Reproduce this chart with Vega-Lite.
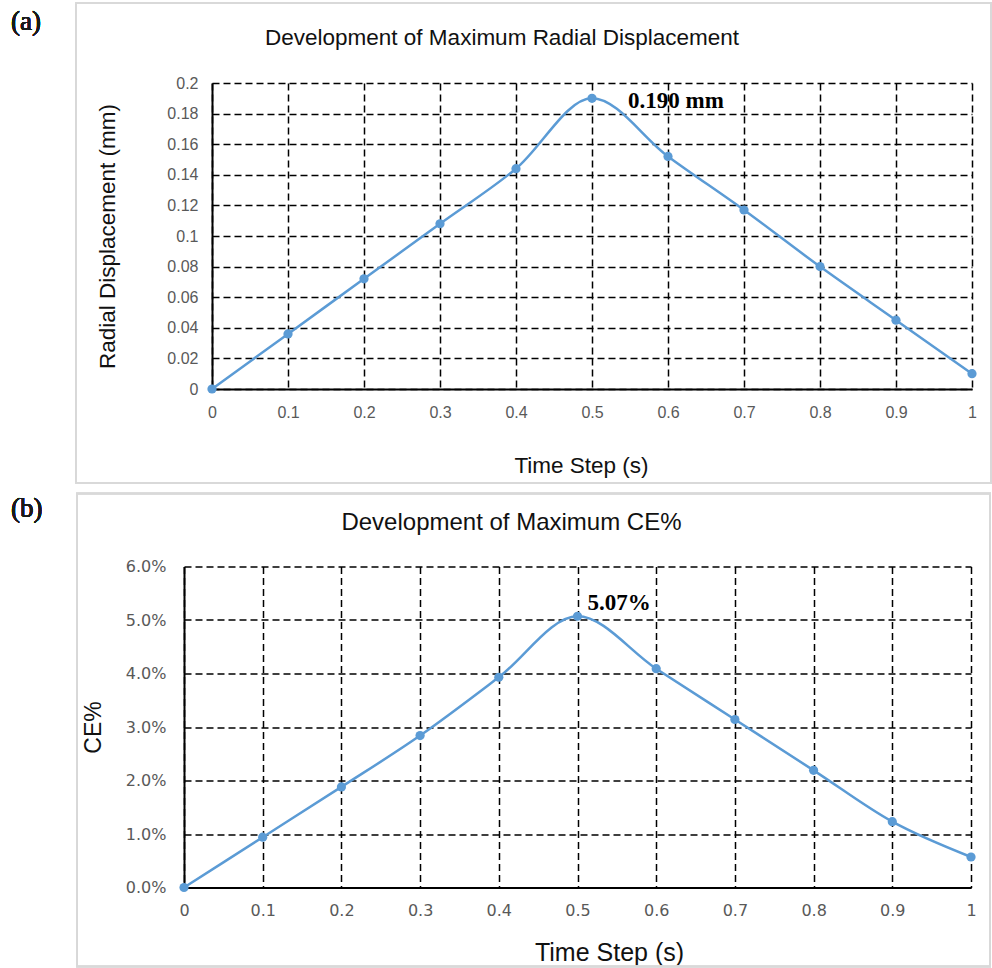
{
  "$schema": "https://vega.github.io/schema/vega-lite/v6.json",
  "background": "white",
  "padding": {"left": 10, "top": 2, "right": 0, "bottom": 0},
  "spacing": 8.5,
  "config": {
    "view": {"stroke": null},
    "font": "Liberation Sans",
    "axis": {
      "grid": true,
      "gridColor": "#000000",
      "gridDash": [7, 4],
      "gridWidth": 1.5,
      "gridOpacity": 1,
      "ticks": false,
      "domainColor": "#000000",
      "domainWidth": 2,
      "labelColor": "#595959",
      "labelFont": "Liberation Sans",
      "labelOverlap": false,
      "labelFlush": false,
      "labelBound": false,
      "titleFont": "Liberation Sans",
      "titleFontWeight": "normal",
      "titleColor": "#111111"
    }
  },
  "vconcat": [
    {
      "width": 788,
      "height": 306,
      "title": {
        "text": "Development of Maximum Radial Displacement",
        "font": "Liberation Sans",
        "fontSize": 22.5,
        "fontWeight": "normal",
        "color": "#111111",
        "anchor": "middle",
        "frame": "group",
        "baseline": "alphabetic",
        "dx": -76,
        "offset": -65
      },
      "data": {
        "values": [
          {"t": 0, "v": 0},
          {"t": 0.1, "v": 0.036},
          {"t": 0.2, "v": 0.072},
          {"t": 0.3, "v": 0.108},
          {"t": 0.4, "v": 0.144},
          {"t": 0.5, "v": 0.19, "label": "0.190 mm"},
          {"t": 0.6, "v": 0.152},
          {"t": 0.7, "v": 0.117},
          {"t": 0.8, "v": 0.08},
          {"t": 0.9, "v": 0.045},
          {"t": 1, "v": 0.01}
        ]
      },
      "layer": [
        {
          "mark": {"type": "line", "interpolate": "monotone", "color": "#5B9BD5", "strokeWidth": 2.5, "point": {"filled": true, "size": 85, "color": "#5B9BD5", "opacity": 1}},
          "encoding": {
            "x": {
              "field": "t", "type": "quantitative",
              "scale": {"domain": [0, 1], "range": [28, 788], "nice": false},
              "axis": {
                "values": [0, 0.1, 0.2, 0.3, 0.4, 0.5, 0.6, 0.7, 0.8, 0.9, 1],
                "tickCount": 20,
                "format": "~g",
                "labelFontSize": 16,
                "labelPadding": 15,
                "title": "Time Step (s)",
                "titleFontSize": 22.5,
                "titlePadding": 34,
                "titleX": 397
              }
            },
            "y": {
              "field": "v", "type": "quantitative",
              "scale": {"domain": [0, 0.2], "nice": false},
              "axis": {
                "values": [0, 0.02, 0.04, 0.06, 0.08, 0.1, 0.12, 0.14, 0.16, 0.18, 0.2],
                "tickCount": 20,
                "format": "~g",
                "offset": -28,
                "labelFontSize": 16,
                "labelPadding": 14,
                "title": "Radial Displacement (mm)",
                "titleFontSize": 22.5,
                "titlePadding": 47
              }
            }
          }
        },
        {
          "mark": {"type": "rect", "fillOpacity": 0, "stroke": "#d9d9d9", "strokeWidth": 1.5},
          "encoding": {
            "x": {"datum": -0.1789, "type": "quantitative", "scale": {"domain": [0, 1], "range": [28, 788], "nice": false}},
            "x2": {"datum": 1.025},
            "y": {"datum": 0.2523, "type": "quantitative", "scale": {"domain": [0, 0.2], "nice": false}},
            "y2": {"datum": -0.0614}
          }
        },
        {
          "mark": {"type": "text", "text": "(a)", "font": "Liberation Serif", "fontSize": 27, "align": "left", "baseline": "alphabetic", "color": "#1a1a1a"},
          "encoding": {
            "x": {"datum": -0.2645, "type": "quantitative", "scale": {"domain": [0, 1], "range": [28, 788], "nice": false}},
            "y": {"datum": 0.2346, "type": "quantitative", "scale": {"domain": [0, 0.2], "nice": false}}
          }
        },
        {
          "transform": [{"filter": "isValid(datum.label)"}],
          "mark": {"type": "text", "font": "Liberation Serif", "fontWeight": "bold", "fontSize": 23, "align": "left", "baseline": "middle", "dx": 36, "dy": 3, "color": "#000000"},
          "encoding": {
            "x": {"field": "t", "type": "quantitative", "scale": {"domain": [0, 1], "range": [28, 788], "nice": false}},
            "y": {"field": "v", "type": "quantitative", "scale": {"domain": [0, 0.2], "nice": false}},
            "text": {"field": "label"}
          }
        }
      ]
    },
    {
      "width": 787,
      "height": 321,
      "title": {
        "text": "Development of Maximum CE%",
        "font": "Liberation Sans",
        "fontSize": 24,
        "fontWeight": "normal",
        "color": "#111111",
        "anchor": "middle",
        "frame": "group",
        "baseline": "alphabetic",
        "dx": -66,
        "offset": -61.5
      },
      "data": {
        "values": [
          {"t": 0, "v": 0},
          {"t": 0.1, "v": 0.0094},
          {"t": 0.2, "v": 0.0188},
          {"t": 0.3, "v": 0.0284},
          {"t": 0.4, "v": 0.0393},
          {"t": 0.5, "v": 0.0507, "label": "5.07%"},
          {"t": 0.6, "v": 0.0409},
          {"t": 0.7, "v": 0.0314},
          {"t": 0.8, "v": 0.0219},
          {"t": 0.9, "v": 0.0123},
          {"t": 1, "v": 0.0057}
        ]
      },
      "layer": [
        {
          "mark": {"type": "line", "interpolate": "monotone", "color": "#5B9BD5", "strokeWidth": 2.5, "point": {"filled": true, "size": 85, "color": "#5B9BD5", "opacity": 1}},
          "encoding": {
            "x": {
              "field": "t", "type": "quantitative",
              "scale": {"domain": [0, 1], "nice": false},
              "axis": {
                "values": [0, 0.1, 0.2, 0.3, 0.4, 0.5, 0.6, 0.7, 0.8, 0.9, 1],
                "tickCount": 20,
                "format": "~g",
                "labelFont": "DejaVu Sans",
                "labelFontSize": 16,
                "labelPadding": 15,
                "title": "Time Step (s)",
                "titleFontSize": 25,
                "titlePadding": 22,
                "titleX": 425
              }
            },
            "y": {
              "field": "v", "type": "quantitative",
              "scale": {"domain": [0, 0.06], "nice": false},
              "axis": {
                "values": [0, 0.01, 0.02, 0.03, 0.04, 0.05, 0.06],
                "tickCount": 20,
                "format": ".1%",
                "labelFont": "DejaVu Sans",
                "labelFontSize": 16,
                "labelPadding": 18,
                "title": "CE%",
                "titleFontSize": 23,
                "titlePadding": 20
              }
            }
          }
        },
        {
          "mark": {"type": "rect", "fillOpacity": 0, "stroke": "#d9d9d9", "strokeWidth": 1.5},
          "encoding": {
            "x": {"datum": -0.136, "type": "quantitative", "scale": {"domain": [0, 1], "nice": false}},
            "x2": {"datum": 1.0241},
            "y": {"datum": 0.07364, "type": "quantitative", "scale": {"domain": [0, 0.06], "nice": false}},
            "y2": {"datum": -0.01477}
          }
        },
        {
          "mark": {"type": "text", "text": "(b)", "font": "Liberation Serif", "fontSize": 27, "align": "left", "baseline": "alphabetic", "color": "#1a1a1a"},
          "encoding": {
            "x": {"datum": -0.2198, "type": "quantitative", "scale": {"domain": [0, 1], "nice": false}},
            "y": {"datum": 0.06916, "type": "quantitative", "scale": {"domain": [0, 0.06], "nice": false}}
          }
        },
        {
          "transform": [{"filter": "isValid(datum.label)"}],
          "mark": {"type": "text", "font": "Liberation Serif", "fontWeight": "bold", "fontSize": 23, "align": "left", "baseline": "middle", "dx": 10, "dy": -13, "color": "#000000"},
          "encoding": {
            "x": {"field": "t", "type": "quantitative", "scale": {"domain": [0, 1], "nice": false}},
            "y": {"field": "v", "type": "quantitative", "scale": {"domain": [0, 0.06], "nice": false}},
            "text": {"field": "label"}
          }
        }
      ]
    }
  ]
}
